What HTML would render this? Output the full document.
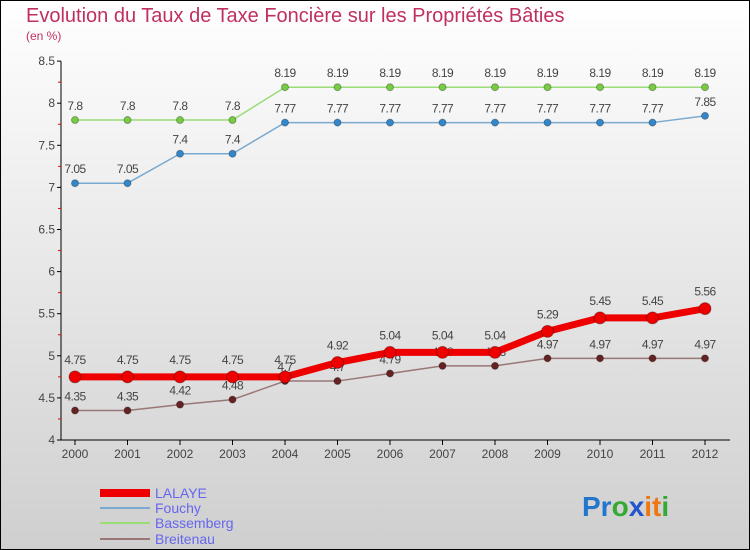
<!DOCTYPE html>
<html><head><meta charset="utf-8"><style>
body{margin:0}
#c{width:750px;height:550px;position:relative;overflow:hidden}
svg text{font-family:"Liberation Sans",sans-serif}
</style></head><body>
<div id="c">
<svg id="s" width="750" height="550" xmlns="http://www.w3.org/2000/svg">
<defs><linearGradient id="bg" x1="0" y1="0" x2="0" y2="1"><stop offset="0" stop-color="#ffffff"/><stop offset="1" stop-color="#cfcfcf"/></linearGradient></defs>
<rect x="0.5" y="0.5" width="749" height="549" fill="url(#bg)" stroke="#000"/>
<text x="26" y="22" font-size="20" fill="#c0305f">Evolution du Taux de Taxe Foncière sur les Propriétés Bâties</text>
<text x="26" y="40" font-size="12" fill="#c0305f">(en %)</text>
<g id="axes"></g><g id="series"></g>
<g>
<rect x="100" y="489" width="50" height="8" fill="#e00"/>
<text x="155" y="498" font-size="14" fill="#6666ee">LALAYE</text>
<line x1="100" y1="508" x2="150" y2="508" stroke="#7aaad0" stroke-width="2"/>
<text x="155" y="513" font-size="14" fill="#6666ee">Fouchy</text>
<line x1="100" y1="523" x2="150" y2="523" stroke="#99dd77" stroke-width="2"/>
<text x="155" y="528" font-size="14" fill="#6666ee">Bassemberg</text>
<line x1="100" y1="539" x2="150" y2="539" stroke="#997777" stroke-width="2"/>
<text x="155" y="544" font-size="14" fill="#6666ee">Breitenau</text>
</g>
<text x="582" y="516" font-size="28" font-weight="bold"><tspan fill="#2277cc">Pr</tspan><tspan fill="#33aa33">o</tspan><tspan fill="#2255cc">x</tspan><tspan fill="#ee7711">it</tspan><tspan fill="#33aa33">i</tspan></text>
</svg></div>
<script>
const years=["2000","2001","2002","2003","2004","2005","2006","2007","2008","2009","2010","2011","2012"];
const yTicks=["4","4.5","5","5.5","6","6.5","7","7.5","8","8.5"];
const lalaye=[4.75,4.75,4.75,4.75,4.75,4.92,5.04,5.04,5.04,5.29,5.45,5.45,5.56];
const fouchy=[7.05,7.05,7.4,7.4,7.77,7.77,7.77,7.77,7.77,7.77,7.77,7.77,7.85];
const bassemberg=[7.8,7.8,7.8,7.8,8.19,8.19,8.19,8.19,8.19,8.19,8.19,8.19,8.19];
const breitenau=[4.35,4.35,4.42,4.48,4.7,4.7,4.79,4.88,4.88,4.97,4.97,4.97,4.97];
const NS="http://www.w3.org/2000/svg";
function X(i){return 75+i*52.5;}
function Y(v){return 440-(v-4)*84.2;}
function mk(tag,attrs,parent,txt){const e=document.createElementNS(NS,tag);for(const k in attrs)e.setAttribute(k,attrs[k]);if(txt!==undefined)e.textContent=txt;parent.appendChild(e);return e;}
const ax=document.getElementById('axes');
let e=mk('line',{x1:61,y1:Y(8.5),x2:61,y2:440,stroke:'#000'},ax);


e=mk('line',{x1:61,y1:440,x2:730,y2:440,stroke:'#000'},ax);


yTicks.forEach((t,i)=>{const v=parseFloat(t);mk('line',{x1:57,y1:Y(v),x2:61,y2:Y(v),stroke:'#000'},ax);
 if(i<yTicks.length-1)mk('line',{x1:58,y1:Y(v+0.25),x2:61,y2:Y(v+0.25),stroke:'#e00'},ax);
 e=mk('text',{x:55,y:Y(v)+4,'font-size':12,fill:'#444','text-anchor':'end'},ax,t);
 
 });
years.forEach((t,i)=>{mk('line',{x1:X(i),y1:440,x2:X(i),y2:445,stroke:'#000'},ax);
 e=mk('text',{x:X(i),y:458,'font-size':12,fill:'#444','text-anchor':'middle'},ax,t);
 
 });
const sg=document.getElementById('series');
function draw(name,vals,color,w,r,dot,lift){
 const g=mk('g',{},sg);
 
 
 const p=mk('polyline',{points:vals.map((v,i)=>X(i)+','+Y(v)).join(' '),fill:'none',stroke:color,'stroke-width':w,'stroke-linejoin':'round'},g);
 
 
 vals.forEach((v,i)=>{const c=mk('circle',{cx:X(i),cy:Y(v),r:r,fill:dot,stroke:'rgba(0,0,0,0.3)'},g);
  
  
  const t=mk('text',{x:X(i),y:Y(v)-lift,'font-size':12,fill:'#444','text-anchor':'middle','letter-spacing':'-0.5'},g,String(v));
  
  });
}
draw('bassemberg',bassemberg,'#99dd77',1.5,3.5,'#77cc44',10);
draw('fouchy',fouchy,'#7aaad0',1.5,3.5,'#3388cc',10);
draw('breitenau',breitenau,'#997777',1.5,3.5,'#662222',10);
draw('lalaye',lalaye,'#ee0000',7,6,'#ee0000',13);
</script>
</body></html>
